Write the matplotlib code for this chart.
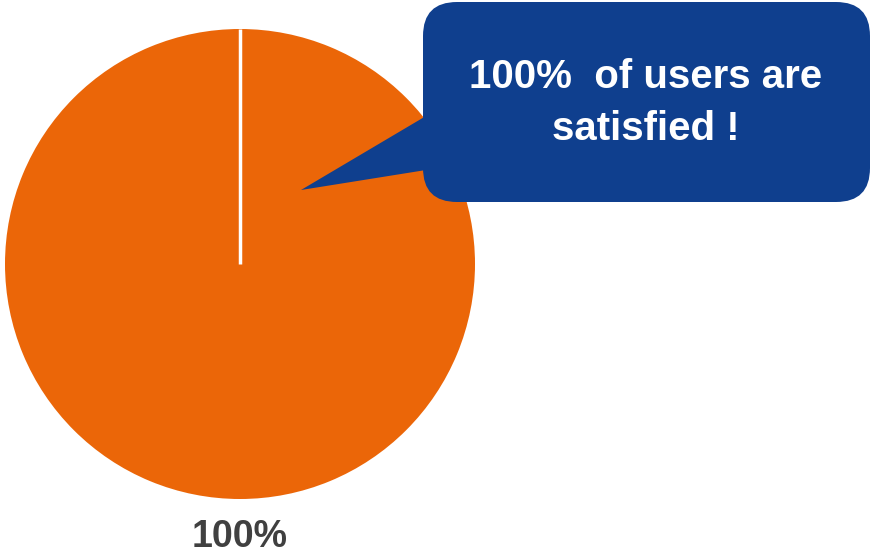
import matplotlib
matplotlib.use("Agg")
import matplotlib.pyplot as plt
from matplotlib.patches import FancyBboxPatch, Polygon

plt.rcParams['font.family'] = ['Liberation Sans', 'DejaVu Sans']

# data
labels = ['Satisfied']
values = [100]
pie_label = '100%'
callout_lines = ['100%  of users are', 'satisfied !']

pie_color = '#EB6608'
box_color = '#0F3F8E'

fig = plt.figure(figsize=(8.72, 5.54), dpi=100)
ax = fig.add_axes([0, 0, 1, 1])

cx, cy, r = 240, 264, 235
ax.pie(values, colors=[pie_color], startangle=90, counterclock=False,
       center=(cx, cy), radius=r, frame=True)
ax.set_xlim(0, 872)
ax.set_ylim(554, 0)
ax.set_aspect('equal')
ax.axis('off')

# white line from centre up to the top of the pie
ax.plot([cx, cx], [cy, cy - r], color='white', lw=2.5, solid_capstyle='butt')

ax.text(cx, 537, pie_label, ha='center', va='center', fontsize=27,
        fontweight='bold', color='#404040')

# callout
box = FancyBboxPatch((423, 2), 447, 200, boxstyle='round,pad=0,rounding_size=34',
                     facecolor=box_color, edgecolor='none')
ax.add_patch(box)
ax.add_patch(Polygon([(426, 116), (301, 190), (426, 170)], closed=True,
                     facecolor=box_color, edgecolor='none'))

ax.text(646, 77, callout_lines[0], ha='center', va='center', fontsize=29,
        fontweight='bold', color='white')
ax.text(646, 129, callout_lines[1], ha='center', va='center', fontsize=29,
        fontweight='bold', color='white')

fig.savefig('out.png', dpi=100)
